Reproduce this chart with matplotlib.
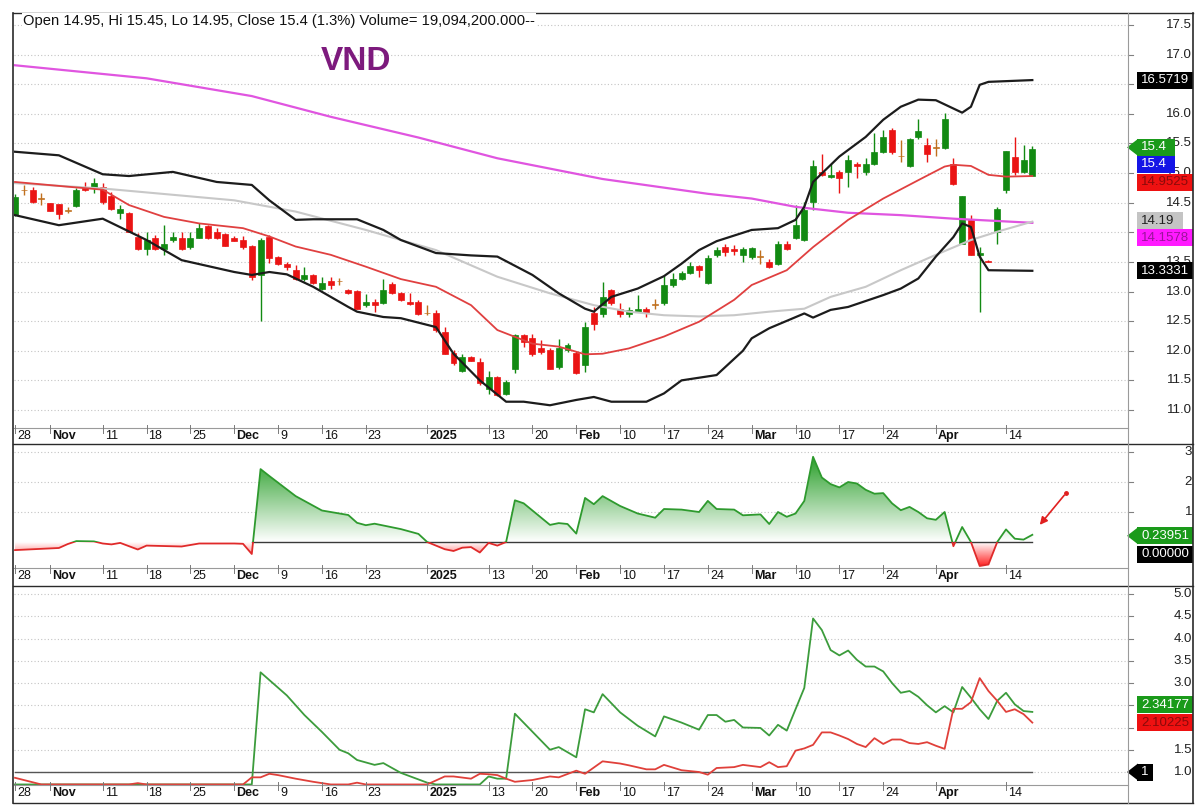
import numpy as np
import pandas as pd
import matplotlib
matplotlib.use("Agg")
import matplotlib.pyplot as plt
from matplotlib.lines import Line2D
from matplotlib.patches import Polygon, Rectangle
from matplotlib.path import Path
from matplotlib.colors import LinearSegmentedColormap

plt.rcParams['font.family'] = ['Liberation Sans', 'DejaVu Sans']

# ---------------------------------------------------------------- data
holidays = pd.to_datetime(['2025-01-01', '2025-01-27', '2025-01-28', '2025-01-29',
                           '2025-01-30', '2025-01-31', '2025-04-07'])
dates = pd.bdate_range('2024-10-28', '2025-04-17')
dates = dates[~dates.isin(holidays)]

opens = [14.30, 14.71, 14.72, 14.57, 14.49, 14.47, 14.36, 14.44, 14.77, 14.75,
         14.76, 14.61, 14.32, 14.32, 13.92, 13.71, 13.91, 13.71, 13.87, 13.91,
         13.76, 13.91, 14.10, 14.01, 13.97, 13.91, 13.87, 13.77, 13.28, 13.92,
         13.58, 13.47, 13.36, 13.22, 13.28, 13.05, 13.18, 13.17, 13.02, 13.01,
         12.77, 12.83, 12.81, 13.12, 12.97, 12.83, 12.83, 12.63, 12.63, 12.32,
         11.96, 11.66, 11.89, 11.81, 11.36, 11.56, 11.27, 11.70, 12.26, 12.22,
         12.04, 12.02, 11.73, 12.02, 11.96, 11.76, 12.63, 12.62, 13.02, 12.71,
         12.62, 12.66, 12.71, 12.77, 12.80, 13.11, 13.22, 13.31, 13.43, 13.15,
         13.62, 13.75, 13.72, 13.62, 13.59, 13.59, 13.50, 13.47, 13.81, 13.90,
         13.87, 14.52, 15.02, 14.94, 15.01, 15.02, 15.16, 15.01, 15.16, 15.36,
         15.73, 15.28, 15.12, 15.61, 15.47, 15.42, 15.42, 15.16, 13.81, 14.20,
         13.62, 13.52, 14.01, 14.72, 15.27, 15.01, 14.95]
highs = [14.65, 14.80, 14.76, 14.67, 14.50, 14.48, 14.42, 14.75, 14.85, 14.91,
         14.83, 14.68, 14.46, 14.35, 13.99, 14.01, 13.95, 14.12, 14.01, 14.01,
         14.01, 14.16, 14.13, 14.07, 13.98, 13.93, 13.93, 13.79, 13.90, 13.95,
         13.60, 13.50, 13.45, 13.41, 13.30, 13.25, 13.25, 13.23, 13.05, 13.03,
         12.96, 12.87, 13.22, 13.16, 13.00, 12.97, 12.85, 12.77, 12.69, 12.40,
         12.01, 11.95, 11.92, 11.87, 11.66, 11.58, 11.50, 12.29, 12.29, 12.28,
         12.19, 12.05, 12.20, 12.13, 12.00, 12.49, 12.74, 13.16, 13.04, 12.81,
         12.74, 12.94, 12.74, 12.88, 13.28, 13.31, 13.35, 13.50, 13.44, 13.62,
         13.75, 13.80, 13.78, 13.76, 13.76, 13.70, 13.55, 13.85, 13.85, 14.46,
         14.52, 15.22, 15.32, 15.16, 15.05, 15.31, 15.19, 15.25, 15.67, 15.73,
         15.76, 15.56, 15.59, 15.91, 15.60, 15.58, 16.01, 15.26, 14.61, 14.29,
         13.75, 13.53, 14.42, 15.38, 15.61, 15.47, 15.45]
lows = [14.27, 14.63, 14.49, 14.46, 14.36, 14.22, 14.32, 14.42, 14.70, 14.67,
        14.48, 14.38, 14.23, 14.00, 13.70, 13.62, 13.70, 13.62, 13.84, 13.70,
        13.71, 13.90, 13.88, 13.88, 13.77, 13.85, 13.71, 13.20, 12.50, 13.48,
        13.45, 13.36, 13.20, 13.18, 13.12, 13.03, 13.05, 13.11, 12.96, 12.70,
        12.74, 12.66, 12.79, 12.95, 12.84, 12.78, 12.60, 12.60, 12.32, 11.94,
        11.76, 11.64, 11.82, 11.42, 11.27, 11.24, 11.26, 11.62, 12.07, 11.91,
        11.95, 11.70, 11.70, 11.98, 11.60, 11.64, 12.35, 12.57, 12.78, 12.57,
        12.57, 12.66, 12.57, 12.71, 12.78, 13.07, 13.20, 13.29, 13.25, 13.12,
        13.58, 13.60, 13.62, 13.50, 13.55, 13.47, 13.40, 13.45, 13.70, 13.88,
        13.85, 14.38, 14.95, 14.91, 14.67, 14.77, 14.91, 14.97, 15.14, 15.34,
        15.32, 15.19, 15.10, 15.58, 15.19, 15.28, 15.40, 14.80, 13.80, 13.61,
        12.65, 13.50, 13.81, 14.66, 14.97, 15.00, 14.95]
closes = [14.60, 14.71, 14.52, 14.57, 14.36, 14.31, 14.36, 14.72, 14.71, 14.83,
          14.52, 14.40, 14.39, 14.01, 13.71, 13.87, 13.71, 13.81, 13.92, 13.71,
          13.91, 14.07, 13.91, 13.91, 13.77, 13.86, 13.76, 13.25, 13.87, 13.56,
          13.46, 13.41, 13.22, 13.28, 13.15, 13.14, 13.11, 13.17, 12.97, 12.71,
          12.83, 12.77, 13.02, 12.97, 12.85, 12.79, 12.62, 12.63, 12.35, 11.95,
          11.79, 11.89, 11.83, 11.45, 11.56, 11.25, 11.47, 12.26, 12.15, 11.95,
          11.98, 11.70, 12.04, 12.09, 11.62, 12.40, 12.45, 12.91, 12.80, 12.62,
          12.69, 12.71, 12.64, 12.77, 13.11, 13.22, 13.31, 13.43, 13.37, 13.57,
          13.70, 13.66, 13.68, 13.72, 13.73, 13.59, 13.42, 13.80, 13.71, 14.12,
          14.38, 15.12, 14.97, 14.97, 14.91, 15.22, 15.12, 15.16, 15.36, 15.61,
          15.36, 15.28, 15.57, 15.71, 15.32, 15.42, 15.91, 14.81, 14.61, 13.62,
          13.65, 13.50, 14.40, 15.38, 15.01, 15.22, 15.40]

# overlay lines in the price pane: (bar index, value)
bb_up_x = [0, 5, 10, 13, 18, 23, 27, 29, 32, 34, 39, 42, 44, 48, 52, 55, 59, 62, 65, 66,
           68, 71, 74, 76, 78, 80, 84, 87, 89, 90, 91, 94, 97, 99, 101, 103, 105, 108, 109, 110,
           111, 116]
bb_up_y = [15.36, 15.30, 14.98, 14.95, 15.02, 14.85, 14.80, 14.54, 14.21, 14.22, 14.22, 14.04,
           13.87, 13.65, 13.61, 13.59, 13.28, 12.97, 12.71, 12.66, 12.91, 13.05, 13.26, 13.47,
           13.70, 13.85, 14.04, 14.07, 14.21, 14.43, 14.85, 15.28, 15.61, 15.90, 16.12, 16.24,
           16.23, 16.02, 16.12, 16.49, 16.54, 16.57]
bb_lo_x = [0, 5, 10, 15, 19, 25, 27, 29, 31, 34, 38, 39, 42, 44, 48, 50, 53, 56, 58, 61,
           64, 66, 68, 72, 74, 76, 80, 83, 84, 86, 90, 91, 93, 95, 99, 101, 103, 105, 107, 108,
           109, 110, 111, 116]
bb_lo_y = [14.29, 14.12, 14.23, 13.87, 13.53, 13.33, 13.28, 13.33, 13.29, 13.08, 12.74, 12.66,
           12.57, 12.55, 12.40, 11.95, 11.50, 11.14, 11.14, 11.08, 11.17, 11.22, 11.14, 11.14,
           11.28, 11.50, 11.59, 12.00, 12.21, 12.38, 12.63, 12.56, 12.69, 12.74, 12.94, 13.05,
           13.22, 13.59, 13.92, 14.15, 14.09, 13.59, 13.36, 13.35]
ma20_x = [0, 6, 10, 13, 17, 21, 26, 29, 32, 36, 40, 44, 48, 52, 55, 59, 62, 65, 67, 70,
          74, 78, 82, 84, 88, 91, 95, 99, 103, 106, 107, 109, 111, 113, 116]
ma20_y = [14.85, 14.77, 14.72, 14.46, 14.26, 14.15, 14.07, 13.93, 13.76, 13.62, 13.42, 13.21,
          13.08, 12.77, 12.35, 12.12, 12.07, 11.94, 11.95, 12.04, 12.24, 12.49, 12.86, 13.11,
          13.36, 13.75, 14.21, 14.57, 14.88, 15.11, 15.14, 15.12, 14.97, 14.94, 14.95]
ma50_x = [0, 10, 25, 32, 40, 44, 48, 55, 61, 66, 70, 74, 78, 82, 86, 90, 93, 97, 101, 105,
          109, 112, 116]
ma50_y = [14.83, 14.74, 14.54, 14.35, 14.04, 13.87, 13.70, 13.25, 12.97, 12.77, 12.66, 12.60,
          12.58, 12.60, 12.66, 12.71, 12.91, 13.08, 13.36, 13.62, 13.87, 14.01, 14.18]
ma200_x = [0, 15, 27, 36, 46, 55, 67, 79, 84, 89, 95, 101, 107, 116]
ma200_y = [16.82, 16.60, 16.30, 15.95, 15.60, 15.25, 14.90, 14.65, 14.57, 14.43, 14.33, 14.29,
           14.23, 14.16]

# middle pane oscillator
osc_x = [0, 5, 6, 7, 9, 10, 11, 12, 14, 15, 19, 21, 25, 26, 27, 28, 29, 32, 35, 38,
         39, 40, 41, 44, 46, 47, 49, 50, 51, 52, 53, 54, 55, 56, 57, 58, 61, 62, 63, 64,
         65, 66, 67, 69, 71, 73, 74, 76, 78, 79, 80, 82, 83, 85, 86, 87, 88, 89, 90, 91,
         92, 93, 94, 95, 96, 97, 98, 99, 100, 101, 102, 103, 104, 105, 106, 107, 108, 109, 110, 111,
         112, 113, 114, 115, 116]
osc_y = [-0.27, -0.20, -0.07, 0.03, 0.02, -0.05, -0.08, -0.03, -0.25, -0.12,
         -0.15, -0.05, -0.05, -0.06, -0.40, 2.43, 2.20, 1.53, 1.05, 0.90,
         0.64, 0.56, 0.61, 0.43, 0.27, 0.00, -0.24, -0.30, -0.19, -0.17,
         -0.35, -0.03, -0.12, 0.00, 1.39, 1.29, 0.57, 0.63, 0.60, 0.28,
         1.47, 1.26, 1.53, 1.20, 0.95, 0.81, 1.10, 1.08, 1.00, 1.37,
         1.10, 1.08, 0.89, 0.92, 0.60, 1.00, 0.84, 0.95, 1.37, 2.84,
         2.15, 1.93, 1.82, 2.00, 1.95, 1.74, 1.61, 1.63, 1.29, 1.06,
         1.17, 1.00, 0.79, 0.74, 1.00, -0.14, 0.50, 0.00, -0.80, -0.75,
         0.00, 0.42, 0.11, 0.08, 0.24]

# bottom pane: two lines
up_x = [0, 27, 28, 31, 33, 35, 37, 38, 39, 41, 42, 44, 47, 48, 53, 54, 55, 56, 57, 61,
        62, 64, 65, 66, 67, 69, 71, 73, 74, 76, 78, 79, 80, 81, 82, 83, 85, 86, 87, 88,
        89, 90, 91, 92, 93, 94, 95, 96, 97, 98, 99, 100, 101, 102, 103, 104, 105, 106, 107, 108,
        109, 110, 111, 112, 113, 114, 115, 116]
up_y = [0.72, 0.72, 3.24, 2.72, 2.28, 1.90, 1.50, 1.42, 1.27, 1.16,
        1.20, 0.98, 0.76, 0.72, 0.72, 0.90, 0.85, 0.85, 2.31, 1.50,
        1.56, 1.33, 2.41, 2.34, 2.75, 2.34, 2.04, 1.80, 2.25, 2.11,
        1.95, 2.28, 2.28, 2.13, 2.17, 2.00, 1.99, 1.82, 2.06, 1.93,
        2.41, 2.89, 4.45, 4.19, 3.74, 3.62, 3.73, 3.52, 3.37, 3.37,
        3.26, 3.00, 2.78, 2.82, 2.69, 2.50, 2.34, 2.48, 2.34, 2.91,
        2.67, 2.41, 2.19, 2.60, 2.78, 2.52, 2.37, 2.35]
dn_x = [0, 3, 13, 14, 15, 26, 27, 28, 29, 30, 32, 34, 36, 38, 39, 40, 47, 49, 50, 52,
        53, 54, 55, 56, 57, 59, 61, 62, 64, 65, 67, 69, 70, 72, 73, 74, 76, 78, 79, 80,
        82, 83, 85, 86, 87, 88, 89, 90, 91, 92, 93, 94, 95, 96, 97, 98, 99, 100, 101, 102,
        103, 104, 105, 106, 107, 108, 109, 110, 111, 112, 113, 114, 115, 116]
dn_y = [0.87, 0.72, 0.72, 0.75, 0.72, 0.72, 0.88, 0.88, 0.96, 0.93,
        0.85, 0.78, 0.72, 0.72, 0.76, 0.72, 0.72, 0.90, 0.90, 0.85,
        0.96, 0.95, 0.93, 0.85, 0.78, 0.82, 0.90, 0.88, 1.03, 0.96,
        1.24, 1.19, 1.15, 1.06, 1.06, 1.16, 1.04, 1.00, 0.94, 1.09,
        1.11, 1.16, 1.11, 1.22, 1.11, 1.13, 1.48, 1.53, 1.61, 1.89,
        1.89, 1.82, 1.74, 1.63, 1.56, 1.76, 1.63, 1.73, 1.73, 1.65,
        1.63, 1.67, 1.59, 1.52, 2.42, 2.42, 2.57, 3.11, 2.82, 2.60,
        2.35, 2.41, 2.30, 2.11]

tick_dates = ['2024-10-28', '2024-11-01', '2024-11-11', '2024-11-18', '2024-11-25',
              '2024-12-02', '2024-12-09', '2024-12-16', '2024-12-23', '2025-01-02',
              '2025-01-13', '2025-01-20', '2025-02-03', '2025-02-10', '2025-02-17',
              '2025-02-24', '2025-03-03', '2025-03-10', '2025-03-17', '2025-03-24',
              '2025-04-01', '2025-04-14']
tick_labels = ['28', 'Nov', '11', '18', '25', 'Dec', '9', '16', '23', '2025', '13', '20',
               'Feb', '10', '17', '24', 'Mar', '10', '17', '24', 'Apr', '14']

price_ticks = [17.5, 17.0, 16.5, 16.0, 15.5, 15.0, 14.5, 14.0, 13.5, 13.0, 12.5, 12.0, 11.5, 11.0]
osc_ticks = [3, 2, 1]
ratio_ticks = [5.0, 4.5, 4.0, 3.5, 3.0, 2.5, 2.0, 1.5, 1.0]

title = 'Open 14.95, Hi 15.45, Lo 14.95, Close 15.4 (1.3%) Volume= 19,094,200.000--'

# ---------------------------------------------------------------- layout
W, H = 1200, 807
L, R, DIV = 14, 1193, 1128
B0, BW = 15, 8.77

fig = plt.figure(figsize=(W / 100, H / 100), dpi=100)
fig.patch.set_facecolor('white')


def fx(px):
    return px / W


def fy(py):
    return 1 - py / H


def bar(px):
    return (px - B0) / BW


def bpx(b):
    return B0 + BW * b


def make_panel(top, bot, pa, va, pb, vb):
    ax = fig.add_axes([fx(L), fy(bot), fx(R) - fx(L), (bot - top) / H])
    k = (vb - va) / (pb - pa)
    ax.set_xlim(bar(L), bar(R))
    ax.set_ylim(va + (bot - pa) * k, va + (top - pa) * k)
    ax.axis('off')
    return ax, (lambda v: pa + (v - va) / k)


ax1, map1 = make_panel(13, 428, 25, 17.5, 410, 11.0)
ax2, map2 = make_panel(444, 568, 452, 3.0, 542, 0.0)
ax3, map3 = make_panel(586, 785, 594, 5.0, 772, 1.0)

tick_pos = dates.get_indexer(pd.to_datetime(tick_dates))
last = len(closes) - 1


# ---------------------------------------------------------------- right-hand value tags
def tags(ax, vmap, items):
    boxes = []
    for v, txt, bg, fg, arrow, width, nudge in items:
        py = vmap(v) + nudge
        if arrow:
            ax.add_patch(Polygon([(fx(1127), fy(py)), (fx(1138), fy(py - 8.5)),
                                  (fx(1138), fy(py + 8.5))], closed=True,
                                 transform=fig.transFigure, fc=bg, ec='none', zorder=9))
        ax.add_patch(Rectangle((fx(1137), fy(py + 8.5)), fx(width), 17 / H,
                               transform=fig.transFigure, fc=bg, ec='none', zorder=9))
        t = ax.text(fx(1141), fy(py), txt, transform=fig.transFigure, ha='left', va='center',
                    fontsize=9.5, color=fg, zorder=10)
        t.set_clip_box(ax.bbox)
        boxes.append((py, width))
    return boxes


tags1 = tags(ax1, map1, [
    (bb_up_y[-1], '16.5719', '#000000', '#ffffff', False, 70, 0),
    (closes[-1], '15.4', '#1a9a1a', '#ffffff', True, 38, -2),
    (closes[-1], '15.4', '#1515e6', '#ffffff', False, 38, 15),
    (ma20_y[-1], '14.9525', '#ee1111', '#8a0a0a', False, 70, 6),
    (ma50_y[-1], '14.19', '#c4c4c4', '#202020', False, 46, -1),
    (ma200_y[-1], '14.1578', '#ff1aff', '#9a139a', False, 70, 15),
    (bb_lo_y[-1], '13.3331', '#000000', '#ffffff', False, 70, 0),
])
tags2 = tags(ax2, map2, [
    (osc_y[-1], '0.23951', '#1a9a1a', '#ffffff', True, 70, 1),
    (0.0, '0.00000', '#000000', '#ffffff', False, 70, 12),
])
tags3 = tags(ax3, map3, [
    (up_y[-1], '2.34177', '#1a9a1a', '#ffffff', False, 70, -7),
    (dn_y[-1], '2.10225', '#ee1111', '#8a0a0a', False, 70, 0),
    (1.0, '1', '#000000', '#ffffff', True, 16, 0),
])


def y_axis(ax, vmap, vals, fmt, boxes):
    for v in vals:
        ax.plot([bar(L), bar(DIV)], [v, v], color='#c4c4c4', lw=0.8, ls=(0, (1, 2)), zorder=0)
        ax.plot([bar(DIV), bar(DIV + 5)], [v, v], color='#808080', lw=0.8, zorder=0)
        # a wide tag sitting right on the level hides its label completely
        if any(w > 50 and abs(vmap(v) - py) < 6.5 for py, w in boxes):
            continue
        ax.text(bar(R - 1), v, fmt.format(v), ha='right', va='center', fontsize=9.5,
                color='#202020', zorder=1)


y_axis(ax1, map1, price_ticks, '{:.1f}', tags1)
y_axis(ax2, map2, osc_ticks, '{:d}', tags2)
y_axis(ax3, map3, ratio_ticks, '{:.1f}', tags3)

# ---------------------------------------------------------------- price pane
x = np.arange(len(closes))
o, h, l, c = (np.array(a) for a in (opens, highs, lows, closes))
up = c > o + 0.005
dn = c < o - 0.005
doji = ~(up | dn)
col = np.where(up, '#128a12', np.where(dn, '#ea1414', '#c0701e'))
ax1.vlines(x, l, h, colors=col, lw=1.0, zorder=3)
body_h = np.where(doji, 0.012, np.abs(c - o))
ax1.bar(x, body_h, bottom=np.minimum(o, c), width=0.68, color=col,
        edgecolor=col, lw=0.5, zorder=4)

ax1.plot(ma200_x, ma200_y, color='#e055e0', lw=1.6, zorder=5)
ax1.plot(ma50_x, ma50_y, color='#c8c8c8', lw=1.5, zorder=5)
ax1.plot(ma20_x, ma20_y, color='#e04040', lw=1.3, zorder=5)
ax1.plot(bb_up_x, bb_up_y, color='#1c1c1c', lw=1.6, zorder=5)
ax1.plot(bb_lo_x, bb_lo_y, color='#1c1c1c', lw=1.6, zorder=5)

fig.text(fx(23), fy(21), title, fontsize=10.6, ha='left', va='center', color='#101010',
         bbox=dict(boxstyle='square,pad=0.1', fc='white', ec='none'))
fig.text(fx(356), fy(61), 'VND', fontsize=24, weight='bold', color='#7d1a7d',
         ha='center', va='center')

# ---------------------------------------------------------------- oscillator pane
xs = np.linspace(osc_x[0], osc_x[-1], 4000)
ys = np.interp(xs, osc_x, osc_y)


def area(yv):
    verts = np.column_stack([np.r_[xs[0], xs, xs[-1]], np.r_[0, yv, 0]])
    return Path(verts)


grad = np.linspace(0, 1, 256).reshape(-1, 1)
gmap = LinearSegmentedColormap.from_list('gfade', ['#ffffff', '#1f9a1f'])
rmap = LinearSegmentedColormap.from_list('rfade', ['#ff1010', '#ffffff'])
im_g = ax2.imshow(grad, extent=[xs[0], xs[-1], 0, 3.0], origin='lower', aspect='auto',
                  cmap=gmap, zorder=1, interpolation='bilinear')
im_g.set_clip_path(area(np.maximum(ys, 0)), transform=ax2.transData)
im_r = ax2.imshow(grad, extent=[xs[0], xs[-1], -0.86, 0], origin='lower', aspect='auto',
                  cmap=rmap, zorder=1, interpolation='bilinear')
im_r.set_clip_path(area(np.minimum(ys, 0)), transform=ax2.transData)

ax2.plot([27, last], [0, 0], color='#3a3a3a', lw=1.0, zorder=2)
ln_g, = ax2.plot(osc_x, osc_y, color='#2e9a2e', lw=1.3, zorder=3)
ln_g.set_clip_path(Rectangle((-5, 0), 200, 10, transform=ax2.transData))
ln_r, = ax2.plot(osc_x, osc_y, color='#e02a2a', lw=1.3, zorder=3)
ln_r.set_clip_path(Rectangle((-5, -10), 200, 10, transform=ax2.transData))

ax2.annotate('', xy=(bar(1038), 0.50), xytext=(bar(1066), 1.63),
             arrowprops=dict(arrowstyle='-|>', color='#e02020', lw=1.2, mutation_scale=11),
             zorder=6)
ax2.plot([bar(1066)], [1.63], 'o', color='#e02020', ms=2.5, zorder=6)

# ---------------------------------------------------------------- bottom pane
ax3.plot([0, last], [1, 1], color='#555555', lw=1.0, zorder=2)
ax3.plot(up_x, up_y, color='#3c9c3c', lw=1.3, zorder=3)
ax3.plot(dn_x, dn_y, color='#e0403a', lw=1.3, zorder=3)


# ---------------------------------------------------------------- frame and date strips
def hline(py, x0, x1, color, lw=1.0):
    fig.add_artist(Line2D([fx(x0), fx(x1)], [fy(py), fy(py)], color=color, lw=lw))


def vline(px, y0, y1, color, lw=1.0):
    fig.add_artist(Line2D([fx(px), fx(px)], [fy(y0), fy(y1)], color=color, lw=lw))


def date_strip(py):
    hline(py, L, DIV, '#9a9a9a', 0.8)
    for pos, lab in zip(tick_pos, tick_labels):
        xp = bpx(pos)
        vline(xp, py - 3, py + 5, '#7a7a7a', 0.7)
        bold = (not lab.isdigit()) or lab == '2025'
        fig.text(fx(xp + 2), fy(py + 8), lab, fontsize=9, ha='left', va='center',
                 color='#111111', weight='bold' if bold else 'normal')


date_strip(428)
date_strip(568)
date_strip(785)

for py in (13, 444, 586, 803):
    hline(py, 13, R, '#2a2a2a', 1.0)
vline(13, 13, 803, '#2a2a2a', 1.2)
vline(R, 13, 803, '#2a2a2a', 1.2)
vline(DIV, 13, 803, '#9a9a9a', 0.8)

fig.savefig('out.png', dpi=100, facecolor='white')
